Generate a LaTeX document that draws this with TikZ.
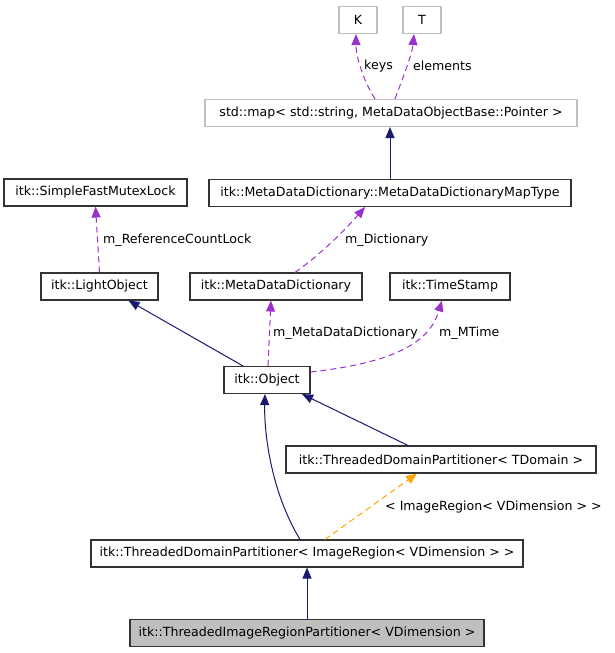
\documentclass[tikz,border=0pt]{standalone}
\usepackage{fontspec}
\setmainfont{DejaVu Sans}
\usepackage{tikz}
\usetikzlibrary{arrows.meta}

\definecolor{usagepurple}{HTML}{9A32CD}
\definecolor{inheritnavy}{HTML}{191970}
\definecolor{tmplorange}{HTML}{FFA500}
\definecolor{boxgray}{HTML}{BFBFBF}

\begin{document}
\begin{tikzpicture}[x=1pt, y=-1pt,
  font=\fontsize{12.6}{14}\selectfont,
  cls/.style={draw=black!80, line width=1.1pt, inner sep=0pt, minimum height=27pt},
  ext/.style={draw=boxgray, line width=1.1pt, inner sep=0pt, minimum height=27pt},
  inherit/.style={inheritnavy, line width=1pt, -{Triangle[length=11pt,width=9pt]}},
  usage/.style={usagepurple, line width=1pt, dash pattern=on 6pt off 4pt, -{Triangle[length=11pt,width=9pt]}},
  tmpl/.style={tmplorange, line width=1pt, dash pattern=on 6pt off 4pt, -{Triangle[length=11pt,width=9pt]}},
  lbl/.style={anchor=west, inner sep=0pt}]
  \useasboundingbox (0,0) rectangle (615,653);

  % Template parameters and the std::map
  \node[ext, minimum width=38pt] (K) at (358,20) {K};
  \node[ext, minimum width=38pt] (T) at (422,20) {T};
  \node[ext, minimum width=372pt] (map) at (391,113) {std::map< std::string, MetaDataObjectBase::Pointer >};

  % Classes
  \node[cls, minimum width=362pt] (mtype) at (390,193) {itk::MetaDataDictionary::MetaDataDictionaryMapType};
  \node[cls, minimum width=183pt] (sfml) at (95.5,192.5) {itk::SimpleFastMutexLock};
  \node[cls, minimum width=117pt] (light) at (99.5,286.5) {itk::LightObject};
  \node[cls, minimum width=172pt] (mdd) at (276,286.5) {itk::MetaDataDictionary};
  \node[cls, minimum width=120pt] (ts) at (450,286.5) {itk::TimeStamp};
  \node[cls, minimum width=86pt] (obj) at (267,380) {itk::Object};
  \node[cls, minimum width=310pt] (tdom) at (441,459.5) {itk::ThreadedDomainPartitioner< TDomain >};
  \node[cls, minimum width=432pt] (tir) at (307,553.5) {itk::ThreadedDomainPartitioner< ImageRegion< VDimension > >};
  \node[cls, fill=boxgray, minimum width=354pt] (final) at (307,633) {itk::ThreadedImageRegionPartitioner< VDimension >};

  % Usage relations
  \draw[usage] ([xshift=-16pt]map.north) .. controls (366,85) and (356,60) .. ([xshift=-2pt]K.south);
  \draw[usage] ([xshift=4pt]map.north) .. controls (402,80) and (412,55) .. ([xshift=-8pt]T.south);
  \draw[usage] ([xshift=19pt]mdd.north) .. controls (320,255) and (345,230) .. ([xshift=-25pt]mtype.south);
  \draw[usage] (light.north) -- (sfml.south);
  \draw[usage] ([xshift=1pt]obj.north) -- ([xshift=-5pt]mdd.south);
  \draw[usage] ([yshift=8pt]obj.east) .. controls (400,362) and (430,340) .. ([xshift=-8pt]ts.south);

  \node[lbl] (lkeys) at (364,66) {keys};
  \node[lbl] (lelem) at (413,66) {elements};
  \node[lbl] (ldict) at (345,240) {m\_Dictionary};
  \node[lbl] (llock) at (103,240) {m\_ReferenceCountLock};
  \node[lbl] (lmdd) at (273,333) {m\_MetaDataDictionary};
  \node[lbl] (ltime) at (439,333) {m\_MTime};

  % Inheritance
  \draw[inherit] (mtype.north) -- (mtype.north |- map.south);
  \draw[inherit] ([xshift=-24pt]obj.north) -- ([xshift=29pt]light.south);
  \draw[inherit] ([xshift=-33pt]tdom.north) -- ([xshift=35pt]obj.south);
  \draw[inherit] ([xshift=-7pt]tir.north) .. controls (270,490) and (264,430) .. ([xshift=-2pt]obj.south);
  \draw[inherit] (final.north) -- (tir.south);

  % Template instantiation
  \draw[tmpl] ([xshift=18pt]tir.north) -- ([xshift=-24pt]tdom.south);
  \node[lbl] (ltmpl) at (385,507) {< ImageRegion< VDimension > >};
\end{tikzpicture}
\end{document}
